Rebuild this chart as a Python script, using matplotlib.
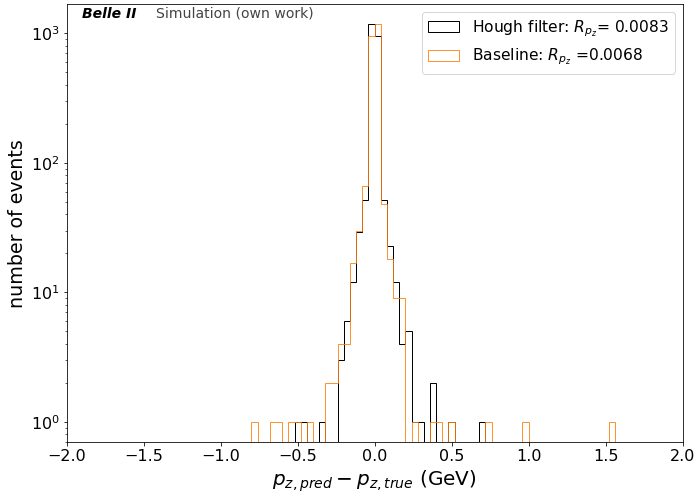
import matplotlib
matplotlib.use('Agg')
import matplotlib.pyplot as plt
import numpy as np

# histogram binning: 100 bins of 0.04 GeV between -2 and 2
bin_lo, bin_hi, n_bins = -2.0, 2.0, 100

# left bin edges (GeV) and counts of the non-empty bins
hough_left = [-0.52, -0.48, -0.36, -0.24, -0.20, -0.16, -0.12, -0.08, -0.04,
              0.00, 0.04, 0.08, 0.12, 0.16, 0.20, 0.24, 0.28, 0.36, 0.48, 0.68]
hough_counts = [1, 1, 1, 3, 6, 12, 29, 52, 1170,
                960, 52, 23, 12, 4, 5, 1, 1, 2, 1, 1]

base_left = [-0.80, -0.68, -0.64, -0.56, -0.52, -0.44, -0.32, -0.28, -0.24, -0.20,
             -0.16, -0.12, -0.08, -0.04, 0.00, 0.04, 0.08, 0.12, 0.16, 0.24,
             0.36, 0.40, 0.48, 0.72, 0.96, 1.52]
base_counts = [1, 1, 1, 1, 1, 1, 2, 2, 4, 4,
               17, 30, 66, 960, 1170, 48, 18, 9, 9, 1,
               1, 1, 1, 1, 1, 1]

hough_label = r'Hough filter: $R_{p_z}$= 0.0083'
base_label = r'Baseline: $R_{p_z}$ =0.0068'

edges = np.linspace(bin_lo, bin_hi, n_bins + 1)
width = (bin_hi - bin_lo) / n_bins
hough_x = np.array(hough_left) + width / 2
base_x = np.array(base_left) + width / 2

# 72 dpi so that 1 pt == 1 px, like the original
fig = plt.figure(figsize=(697 / 72, 492 / 72), dpi=72)
ax = fig.add_axes([0.0957, 0.1016, 0.8835, 0.8893])

ax.hist(hough_x, bins=edges, weights=hough_counts, histtype='step',
        color='black', lw=1, label=hough_label)
ax.hist(base_x, bins=edges, weights=base_counts, histtype='step',
        color='tab:orange', lw=1, alpha=0.85, label=base_label)

ax.set_yscale('log')
ax.set_xlim(-2, 2)
ax.set_ylim(0.70, 1667)

ax.set_xlabel(r'$p_{z,pred} - p_{z,true}$ (GeV)', fontsize=20)
ax.set_ylabel('number of events', fontsize=19)
ax.tick_params(axis='both', labelsize=16)

# Belle II label
ax.text(0.025, 0.995, 'Belle II', transform=ax.transAxes, ha='left', va='top',
        fontsize=14, fontweight='bold', fontstyle='italic')
ax.text(0.145, 0.995, 'Simulation (own work)', transform=ax.transAxes, ha='left', va='top',
        fontsize=14, color='#444444')

ax.legend(loc='upper right', fontsize=15.5)

fig.savefig('out.png', dpi=72)
